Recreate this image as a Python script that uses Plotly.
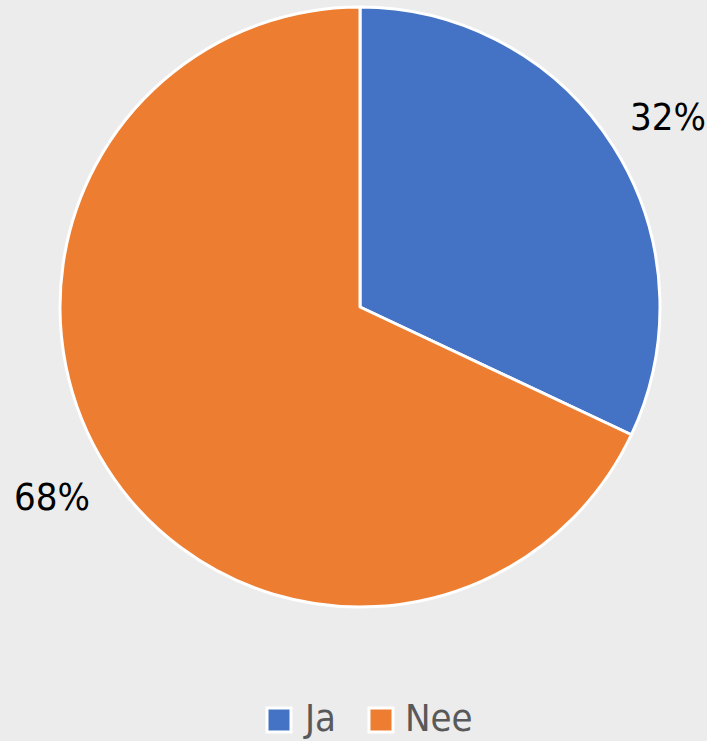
import math
import plotly.graph_objects as go

# Survey answers
categories = ["Ja", "Nee"]
values = [32, 68]
colors = ["#4472C4", "#ED7D31"]

W, H = 707, 741
# Pie geometry in pixels
cx, cy, r = 360, 307, 300
label_dist = 327  # distance of the label's inner corner from the centre
half_w, half_h = 32, 15  # half extent of a percentage label

font_family = "Liberation Sans Narrow, DejaVu Sans Condensed, Roboto, sans-serif"

fig = go.Figure(
    go.Pie(
        labels=categories,
        values=values,
        sort=False,
        direction="clockwise",
        rotation=0,
        marker=dict(colors=colors, line=dict(color="white", width=3)),
        textinfo="none",
        hoverinfo="label+percent",
        showlegend=False,
        domain=dict(
            x=[(cx - r) / W, (cx + r) / W],
            y=[1 - (cy + r) / H, 1 - (cy - r) / H],
        ),
    )
)

# Percentage labels outside each slice: the corner of the text nearest the
# pie sits on the slice's middle angle, just beyond the rim
total = sum(values)
start = 0.0
annotations = []
for v in values:
    frac = v / total
    mid = (start + frac / 2) * 2 * math.pi
    start += frac
    sx, cy_dir = math.sin(mid), math.cos(mid)
    px = cx + label_dist * sx + math.copysign(half_w, sx)
    py = cy - label_dist * cy_dir - math.copysign(half_h, cy_dir)
    annotations.append(
        dict(
            x=px / W,
            y=1 - py / H,
            xref="paper",
            yref="paper",
            text=f"{round(frac * 100)}%",
            showarrow=False,
            xanchor="center",
            yanchor="middle",
            font=dict(family=font_family, size=38, color="#000000"),
        )
    )

# Legend row at the bottom: large outlined squares followed by the names
legend_y = 720
swatch = 24
legend_x = [279, 381]  # swatch centres
shapes = []
for (name, col), lx in zip(zip(categories, colors), legend_x):
    shapes.append(
        dict(
            type="rect",
            xref="paper",
            yref="paper",
            x0=(lx - swatch / 2) / W,
            x1=(lx + swatch / 2) / W,
            y0=1 - (legend_y + swatch / 2) / H,
            y1=1 - (legend_y - swatch / 2) / H,
            fillcolor=col,
            line=dict(color="white", width=3),
        )
    )
    annotations.append(
        dict(
            x=(lx + swatch / 2 + 10) / W,
            y=1 - (legend_y - 2) / H,
            xref="paper",
            yref="paper",
            text=name,
            showarrow=False,
            xanchor="left",
            yanchor="middle",
            font=dict(family=font_family, size=38, color="#595959"),
        )
    )

fig.update_layout(
    width=W,
    height=H,
    margin=dict(l=0, r=0, t=0, b=0, autoexpand=False),
    paper_bgcolor="#ececec",
    plot_bgcolor="#ececec",
    annotations=annotations,
    shapes=shapes,
    showlegend=False,
)

fig.write_html("out.html")
